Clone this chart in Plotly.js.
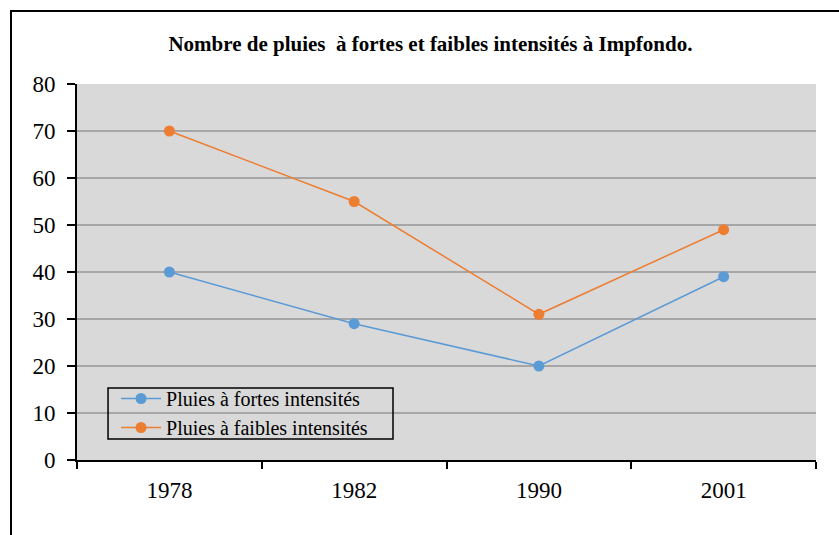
<!DOCTYPE html>
<html>
<head>
<meta charset="utf-8">
<script src="https://cdn.plot.ly/plotly-3.0.1.min.js"></script>
<style>
html, body { margin: 0; padding: 0; background: #fff; }
#wrap { position: relative; width: 839px; height: 535px; overflow: hidden; }
#chart { width: 839px; height: 535px; }
#frame { position: absolute; left: 10px; top: 10px; right: -5px; bottom: -5px; border-left: 2px solid #000; border-top: 2px solid #000; pointer-events: none; }
</style>
</head>
<body>
<div id="wrap"><div id="chart"></div><div id="frame"></div></div>
<script>
const years = ["1978", "1982", "1990", "2001"];
const fortes = [40, 29, 20, 39];
const faibles = [70, 55, 31, 49];
const seriesNames = ["Pluies à fortes intensités", "Pluies à faibles intensités"];
const yTicks = [0, 10, 20, 30, 40, 50, 60, 70, 80];

const font = "Liberation Serif, Times New Roman, serif";

const traces = [
  { x: years, y: fortes, name: seriesNames[0], type: "scatter", mode: "lines+markers",
    line: { color: "#5b9bd5", width: 1.5 }, marker: { color: "#5b9bd5", size: 11 } },
  { x: years, y: faibles, name: seriesNames[1], type: "scatter", mode: "lines+markers",
    line: { color: "#ed7d31", width: 1.5 }, marker: { color: "#ed7d31", size: 11 } }
];

const layout = {
  width: 839, height: 535,
  margin: { l: 77, r: 23, t: 84, b: 75 },
  paper_bgcolor: "#ffffff",
  plot_bgcolor: "#d9d9d9",
  font: { family: font, color: "#000", size: 22 },
  title: { text: "<b>Nombre de pluies \u00a0à fortes et faibles intensités à Impfondo.</b>",
           font: { family: font, size: 21, color: "#000" }, x: 0.513, xanchor: "center", y: 0.918, yanchor: "middle" },
  xaxis: {
    type: "category", categoryorder: "array", categoryarray: years, range: [-0.5, 3.5],
    tickson: "boundaries", ticks: "outside", ticklen: 7, tickwidth: 2, tickcolor: "#000",
    showline: true, linecolor: "#000", linewidth: 2, showgrid: false, zeroline: false,
    ticklabelstandoff: 8,
    tickfont: { family: font, size: 23, color: "#000" }
  },
  yaxis: {
    range: [0, 80], tickvals: yTicks, ticktext: yTicks.map(String),
    ticks: "outside", ticklen: 8, tickwidth: 2, tickcolor: "#000",
    showline: true, linecolor: "#000", linewidth: 2,
    showgrid: true, gridcolor: "#a6a6a6", gridwidth: 2, zeroline: false,
    ticklabelstandoff: 7,
    tickfont: { family: font, size: 23, color: "#000" }
  },
  legend: {
    x: 0.0528, y: 0.2154, xanchor: "left", yanchor: "top",
    bgcolor: "rgba(0,0,0,0)", borderwidth: 0,
    font: { family: font, size: 20, color: "#000" },
    tracegroupgap: 0, itemwidth: 40
  },
  shapes: [
    { type: "rect", xref: "paper", yref: "paper", x0: 0.042, x1: 0.4276, y0: 0.0559, y1: 0.1915,
      line: { color: "#000", width: 1.5 }, fillcolor: "rgba(0,0,0,0)", layer: "above" }
  ],
  showlegend: true
};

Plotly.newPlot("chart", traces, layout, { displayModeBar: false, staticPlot: true });
</script>
</body>
</html>
